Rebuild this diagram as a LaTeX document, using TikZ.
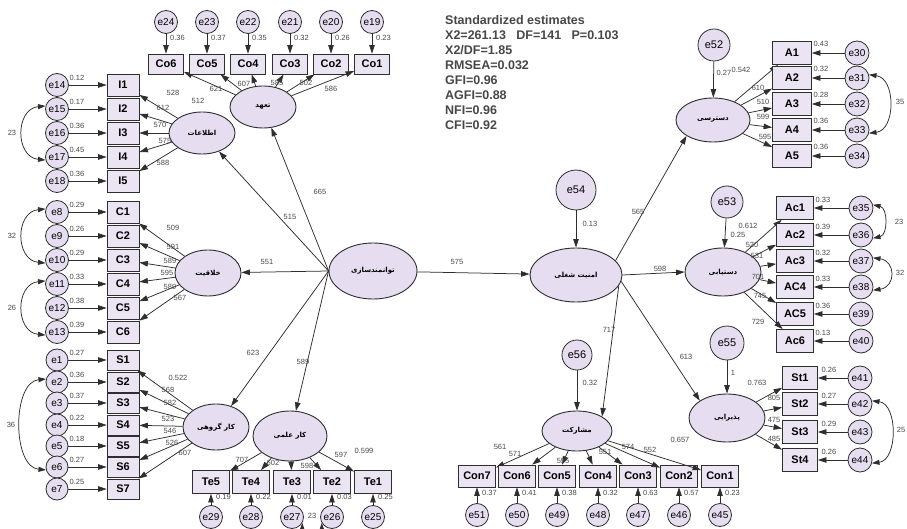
\documentclass[tikz,border=0pt]{standalone}
\usepackage{fontspec}
\setmainfont{Liberation Sans}
\newfontfamily\fafont[Script=Arabic]{DejaVu Sans}
\TeXXeTstate=1
\usetikzlibrary{arrows.meta,shapes.geometric}
\definecolor{lav}{HTML}{E6DEF0}
\definecolor{boxc}{HTML}{EAE4F3}
\definecolor{ln}{HTML}{2E2E2E}
\definecolor{tx}{HTML}{4A4A4A}
\newcommand\faT[1]{{\fafont\bfseries\fontsize{7}{8}\selectfont\beginR #1\endR}}
\newcounter{lbc}
\newcommand\lb[3]{\stepcounter{lbc}\node[lbl] (lb\arabic{lbc}) at (#1,-#2) {#3};}
\begin{document}
\begin{tikzpicture}[x=1pt,y=1pt,
 lat/.style={ellipse,draw=ln,line width=0.9pt,fill=lav,inner sep=0pt},
 err/.style={circle,draw=ln,line width=0.8pt,fill=lav,minimum size=23pt,inner sep=0pt,font=\fontsize{10}{10}\selectfont},
 bigerr/.style={err,font=\fontsize{11}{11}\selectfont},
 obs/.style={rectangle,draw=ln,line width=0.8pt,fill=boxc,minimum width=34pt,minimum height=21pt,inner sep=0pt,font=\bfseries\fontsize{11}{11}\selectfont},
 lbl/.style={font=\fontsize{7.5}{8}\selectfont,text=tx,inner sep=0pt},
 arr/.style={draw=ln,line width=0.75pt,-{Triangle[length=8.5pt,width=5.5pt]}},
 arrb/.style={draw=ln,line width=0.75pt,{Triangle[length=7.5pt,width=5pt]}-{Triangle[length=7.5pt,width=5pt]}}
]
\fill[white] (0,0) rectangle (907,-529);
\useasboundingbox (0,0) rectangle (907,-529);

% ---------- latent variables ----------
\node[lat,minimum width=66pt,minimum height=42pt] (thd) at (263,-107) {\faT{تعهد}};
\node[lat,minimum width=66pt,minimum height=42pt] (inf) at (202,-133) {\faT{اطلاعات}};
\node[lat,minimum width=66pt,minimum height=46pt] (khl) at (208,-273) {\faT{خلاقیت}};
\node[lat,minimum width=66pt,minimum height=46pt] (krg) at (216,-427) {\faT{کار گروهی}};
\node[lat,minimum width=74pt,minimum height=50pt] (kel) at (290,-436) {\faT{کار علمی}};
\node[lat,minimum width=88pt,minimum height=56pt] (ctr) at (373,-271) {\faT{توانمندسازی}};
\node[lat,minimum width=92pt,minimum height=54pt] (ams) at (576,-275) {\faT{امنیت شغلی}};
\node[lat,minimum width=74pt,minimum height=44pt] (dst) at (713,-120) {\faT{دسترسی}};
\node[lat,minimum width=76pt,minimum height=48pt] (dsy) at (723,-272) {\faT{دستیابی}};
\node[lat,minimum width=76pt,minimum height=48pt] (pzr) at (727,-418) {\faT{پذیرایی}};
\node[lat,minimum width=70pt,minimum height=40pt] (msh) at (577,-431) {\faT{مشارکت}};

% ---------- disturbances ----------
\node[bigerr,minimum size=40pt] (e54) at (576,-190) {e54};
\node[bigerr,minimum size=32pt] (e52) at (714,-45) {e52};
\node[bigerr,minimum size=32pt] (e53) at (727,-202) {e53};
\node[bigerr,minimum size=34pt] (e55) at (727,-343) {e55};
\node[bigerr,minimum size=30pt] (e56) at (577,-355) {e56};
\draw[arr] (e54) -- (ams);
\draw[arr] (e52) -- (dst);
\draw[arr] (e53) -- (dsy);
\draw[arr] (e55) -- (pzr);
\draw[arr] (e56) -- (msh);
\lb{590}{224}{0.13}
\lb{724}{73}{0.27}
\lb{738}{235}{0.25}
\lb{733}{373}{1}
\lb{590}{383}{0.32}

% ---------- structural paths ----------
\draw[arr] (ctr.west) -- (inf);
\draw[arr] (ctr.west) -- (thd);
\draw[arr] (ctr.west) -- (khl);
\draw[arr] (ctr.west) -- (krg);
\draw[arr] (ctr.west) -- (kel);
\draw[arr] (ctr) -- (ams);
\draw[arr] (ams.20) -- (dst.south west);
\draw[arr] (ams.east) -- (dsy.west);
\draw[arr] (ams.-8) -- (pzr.north west);
\draw[arr] (ams.-14) -- (msh.north east);
\lb{320}{192}{665}
\lb{290}{217}{515}
\lb{267}{262}{551}
\lb{253}{353}{623}
\lb{303}{362}{589}
\lb{457}{262}{575}
\lb{638}{212}{565}
\lb{660}{269}{598}
\lb{686}{357}{613}
\lb{609}{330}{717}

% ---------- Co (top) ----------
\foreach \b/\e/\x/\v/\l/\lx/\ly in {Co6/e24/166/0.36/512/198/101, Co5/e23/207/0.37/621/216/89, Co4/e22/248/0.35/607/244/84, Co3/e21/290/0.32/585/277/83, Co2/e20/331/0.26/502/306/83, Co1/e19/372/0.23/586/331/89}{
 \node[obs,minimum width=35pt,minimum height=20pt] (\b) at (\x,-64) {\b};
 \node[err] (\e) at (\x,-22) {\e};
 \draw[arr] (\e) -- (\b);
 \draw[arr] (thd) -- (\b);
 \node[lbl,anchor=west] (v\b) at (\x+4,-38) {\v};
 \node[lbl] (l\b) at (\lx,-\ly) {\l};
}

% ---------- I (left) ----------
\foreach \b/\e/\y/\v/\l/\lx/\ly in {I1/e14/85/0.12/528/173/93, I2/e15/109/0.17/612/163/108, I3/e16/133/0.36/570/160/125, I4/e17/157/0.45/575/165/141, I5/e18/181/0.36/588/163/163}{
 \node[obs,minimum width=32pt,minimum height=22pt] (\b) at (123,-\y) {\b};
 \node[err] (\e) at (57,-\y) {\e};
 \draw[arr] (\e) -- (\b);
 \draw[arr] (inf) -- (\b);
 \node[lbl] (v\b) at (77,-\y+7) {\v};
 \node[lbl] (l\b) at (\lx,-\ly) {\l};
}

% ---------- C (left) ----------
\foreach \b/\e/\y/\v/\l/\lx/\ly in {C1/e8/212/0.29/509/173/228, C2/e9/236/0.26/591/173/247, C3/e10/260/0.29/589/170/261, C4/e11/284/0.33/595/167/273, C5/e12/308/0.38/589/170/287, C6/e13/332/0.39/567/180/298}{
 \node[obs,minimum width=32pt,minimum height=22pt] (\b) at (123,-\y) {\b};
 \node[err] (\e) at (57,-\y) {\e};
 \draw[arr] (\e) -- (\b);
 \draw[arr] (khl) -- (\b);
 \node[lbl] (v\b) at (77,-\y+7) {\v};
 \node[lbl] (l\b) at (\lx,-\ly) {\l};
}

% ---------- S (left) ----------
\foreach \b/\e/\y/\v/\l/\lx/\ly in {S1/e1/360/0.27/0.522/178/378, S2/e2/382/0.36/568/168/390, S3/e3/403/0.37/582/170/403, S4/e4/425/0.22/523/168/419, S5/e5/446/0.18/546/170/431, S6/e6/467/0.27/526/172/443, S7/e7/489/0.25/607/185/453}{
 \node[obs,minimum width=32pt,minimum height=20pt] (\b) at (123,-\y) {\b};
 \node[err,minimum size=22pt] (\e) at (57,-\y) {\e};
 \draw[arr] (\e) -- (\b);
 \draw[arr] (krg) -- (\b);
 \node[lbl] (v\b) at (77,-\y+7) {\v};
 \node[lbl] (l\b) at (\lx,-\ly) {\l};
}

% left covariances
\draw[arrb] (e15.165) .. controls (15,-109) and (15,-157) .. (e17.195);
\draw[arrb] (e8.165) .. controls (15,-212) and (15,-260) .. (e10.195);
\draw[arrb] (e11.165) .. controls (15,-284) and (15,-332) .. (e13.195);
\draw[arrb] (e2.165) .. controls (12,-382) and (12,-467) .. (e6.195);
\lb{12}{133}{23}
\lb{12}{236}{32}
\lb{12}{308}{26}
\lb{11}{425}{36}

% ---------- A (right) ----------
\foreach \b/\e/\y/\v/\l/\lx/\ly in {A1/e30/53/0.43/0.542/741/70, A2/e31/78/0.32/610/758/88, A3/e32/104/0.28/510/763/102, A4/e33/130/0.36/599/763/117, A5/e34/156/0.36/595/765/137}{
 \node[obs,minimum width=39pt,minimum height=23pt] (\b) at (792,-\y) {\b};
 \node[err,minimum size=24pt] (\e) at (857,-\y) {\e};
 \draw[arr] (\e) -- (\b);
 \draw[arr] (dst) -- (\b);
 \node[lbl] (v\b) at (821,-\y+9) {\v};
 \node[lbl] (l\b) at (\lx,-\ly) {\l};
}

% ---------- Ac (right) ----------
\foreach \b/\e/\y/\v/\l/\lx/\ly in {Ac1/e35/208/0.33/0.612/748/226, Ac2/e36/235/0.39/520/752/245, Ac3/e37/261/0.32/531/757/256, AC4/e38/287/0.33/701/758/277, AC5/e39/314/0.36/745/760/296, Ac6/e40/341/0.13/729/758/322}{
 \node[obs,minimum width=37pt,minimum height=23pt] (\b) at (795,-\y) {\b};
 \node[err,minimum size=24pt] (\e) at (861,-\y) {\e};
 \draw[arr] (\e) -- (\b);
 \draw[arr] (dsy) -- (\b);
 \node[lbl] (v\b) at (823,-\y+8) {\v};
 \node[lbl] (l\b) at (\lx,-\ly) {\l};
}

% ---------- St (right) ----------
\foreach \b/\e/\y/\v/\l/\lx/\ly in {St1/e41/378/0.26/0.763/757/383, St2/e42/404/0.27/805/774/398, St3/e43/432/0.29/475/774/420, St4/e44/460/0.26/485/774/439}{
 \node[obs,minimum width=35pt,minimum height=23pt] (\b) at (800,-\y) {\b};
 \node[err,minimum size=24pt] (\e) at (860,-\y) {\e};
 \draw[arr] (\e) -- (\b);
 \draw[arr] (pzr) -- (\b);
 \node[lbl] (v\b) at (829,-\y+8) {\v};
 \node[lbl] (l\b) at (\lx,-\ly) {\l};
}

% right covariances
\draw[arrb] (e31.15) .. controls (896,-78) and (896,-130) .. (e33.-15);
\draw[arrb] (e35.15) .. controls (888,-208) and (888,-235) .. (e36.-15);
\draw[arrb] (e37.15) .. controls (896,-261) and (896,-287) .. (e38.-15);
\draw[arrb] (e42.15) .. controls (898,-404) and (898,-460) .. (e44.-15);
\lb{900}{102}{35}
\lb{899}{222}{23}
\lb{900}{273}{32}
\lb{901}{430}{25}

% ---------- Te (bottom) ----------
\foreach \b/\e/\x/\v/\l/\lx/\ly in {Te5/e29/211/0.19/707/242/460, Te4/e28/251/0.22/602/273/463, Te3/e27/292/0.01/598/307/466, Te2/e26/332/0.03/597/341/455, Te1/e25/373/0.25/0.599/364/451}{
 \node[obs,minimum width=37pt,minimum height=23pt] (\b) at (\x,-482) {\b};
 \node[err] (\e) at (\x,-517) {\e};
 \draw[arr] (\e) -- (\b);
 \draw[arr] (kel) -- (\b);
 \node[lbl,anchor=west] (v\b) at (\x+5,-497) {\v};
 \node[lbl] (l\b) at (\lx,-\ly) {\l};
}
\draw[arrb] (e27.-30) .. controls (302,-536) and (322,-536) .. (e26.-150);
\lb{312}{516}{23}

% ---------- Con (bottom) ----------
\foreach \b/\e/\x/\v/\l/\lx/\ly in {Con7/e51/477/0.37/561/500/447, Con6/e50/517/0.41/571/515/454, Con5/e49/557/0.38/555/563/461, Con4/e48/598/0.32/551/605/452, Con3/e47/638/0.63/574/628/447, Con2/e46/679/0.57/552/650/450, Con1/e45/720/0.23/0.657/680/440}{
 \node[obs,minimum width=37pt,minimum height=22pt] (\b) at (\x,-476) {\b};
 \node[err] (\e) at (\x,-515) {\e};
 \draw[arr] (\e) -- (\b);
 \draw[arr] (msh) -- (\b);
 \node[lbl,anchor=west] (v\b) at (\x+5,-493) {\v};
 \node[lbl] (l\b) at (\lx,-\ly) {\l};
}

% ---------- fit statistics ----------
\node[anchor=north west,align=left,inner sep=0pt,text=black!72,font=\bfseries\fontsize{12.5}{15}\selectfont] (stats) at (445,-15) {Standardized estimates\\X2=261.13\ \ \ DF=141\ \ \ P=0.103\\X2/DF=1.85\\RMSEA=0.032\\GFI=0.96\\AGFI=0.88\\NFI=0.96\\CFI=0.92};
\end{tikzpicture}
\end{document}
